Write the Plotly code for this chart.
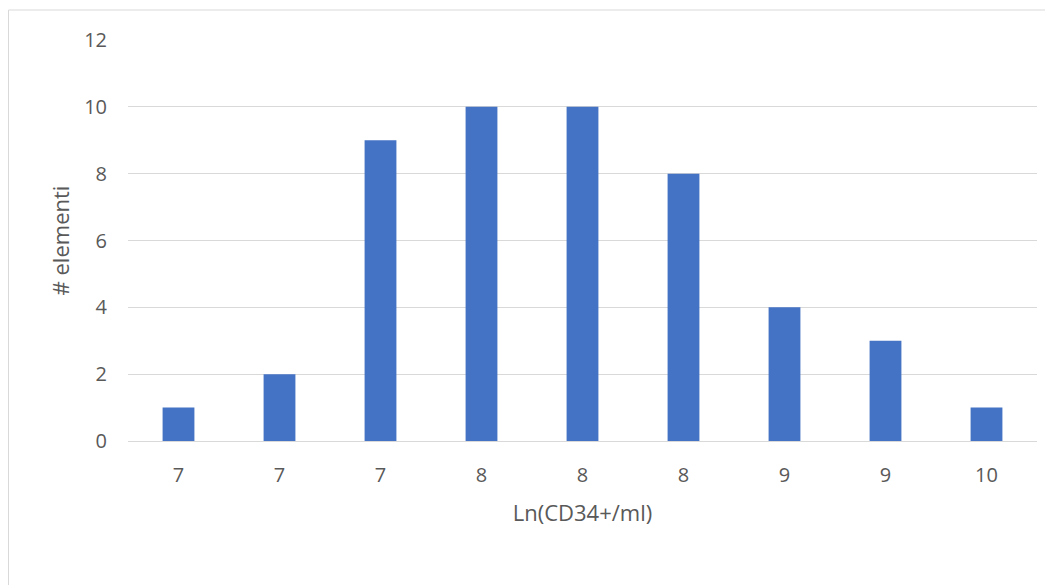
import plotly.graph_objects as go

categories = ["7", "7", "7", "8", "8", "8", "9", "9", "10"]
counts = [1, 2, 9, 10, 10, 8, 4, 3, 1]
y_ticks = [0, 2, 4, 6, 8, 10, 12]

positions = list(range(len(categories)))

fig = go.Figure(go.Bar(x=positions, y=counts, marker_color="#4472C4",
                       marker_line_width=0, width=0.315))

# page is rendered with an 8px body margin; compensate
W, H = 1053, 585
L, R, T, B = 120, 24, 32, 152
pw, ph = W - L - R, H - T - B

fig.update_layout(
    width=W, height=H,
    margin=dict(l=L, r=R, t=T, b=B),
    plot_bgcolor="white", paper_bgcolor="white",
    font=dict(family="Open Sans, Calibri, sans-serif", size=20, color="#595959"),
    showlegend=False,
    xaxis=dict(
        tickmode="array", tickvals=positions, ticktext=categories,
        range=[-0.5, len(categories) - 0.5],
        showgrid=False, zeroline=False, showline=True, linecolor="#d9d9d9", linewidth=1,
        ticks="", ticklabelstandoff=16,
        tickfont=dict(size=20),
        title=dict(text="Ln(CD34+/ml)", standoff=18, font=dict(size=22, color="#595959")),
    ),
    yaxis=dict(
        tickmode="array", tickvals=y_ticks, range=[0, 12],
        showgrid=True, gridcolor="#d9d9d9", gridwidth=1, zeroline=False,
        ticks="", ticklabelstandoff=20,
        tickfont=dict(size=20),
        title=dict(text="# elementi", standoff=8, font=dict(size=22, color="#595959")),
    ),
    shapes=[dict(type="rect", xref="paper", yref="paper",
                 x0=(0.5 - L) / pw, x1=(W + 10 - L) / pw,
                 y0=-(H + 10 - T - ph) / ph, y1=1 + (T - 2) / ph,
                 line=dict(color="#d9d9d9", width=1), fillcolor="rgba(0,0,0,0)",
                 layer="below")],
)

fig.write_html("out.html")
